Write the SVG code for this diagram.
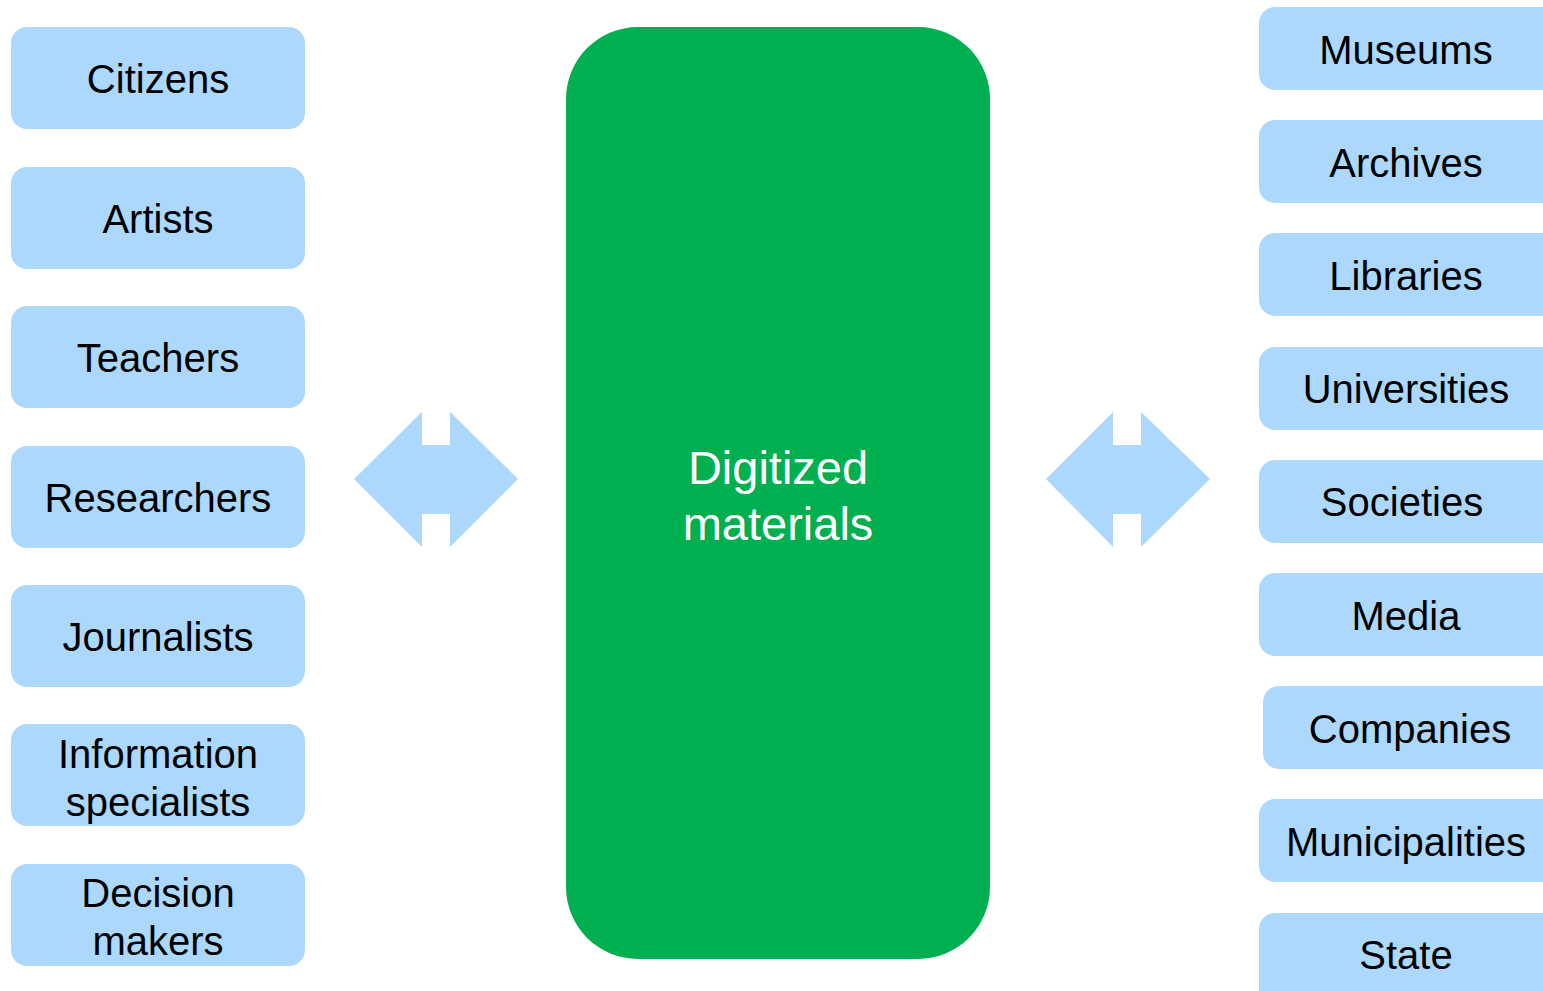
<svg xmlns="http://www.w3.org/2000/svg" width="1543" height="991" viewBox="0 0 1543 991">
<style>
.box{fill:#ADD8FE;}
.t{font-family:"Liberation Sans",Arial,sans-serif;font-size:40px;fill:#000;text-anchor:middle;}
.w{font-family:"Liberation Sans",Arial,sans-serif;font-size:47px;fill:#fff;text-anchor:middle;}
.arr{fill:#ADD8FE;}
</style>
<rect width="1543" height="991" fill="#fff"/>
<g id="center">
<rect x="566" y="27" width="424" height="932" rx="72" ry="72" fill="#00AF50"/>
<text class="w" x="778" y="484">Digitized</text>
<text class="w" x="778" y="540">materials</text>
</g>
<g id="left">
<g id="citizens"><rect class="box" x="11" y="27" width="294" height="102" rx="16"/><text class="t" x="158" y="93">Citizens</text></g>
<g id="artists"><rect class="box" x="11" y="167" width="294" height="102" rx="16"/><text class="t" x="158" y="233">Artists</text></g>
<g id="teachers"><rect class="box" x="11" y="306" width="294" height="102" rx="16"/><text class="t" x="158" y="372">Teachers</text></g>
<g id="researchers"><rect class="box" x="11" y="446" width="294" height="102" rx="16"/><text class="t" x="158" y="512">Researchers</text></g>
<g id="journalists"><rect class="box" x="11" y="585" width="294" height="102" rx="16"/><text class="t" x="158" y="651">Journalists</text></g>
<g id="infospec"><rect class="box" x="11" y="724" width="294" height="102" rx="16"/><text class="t" x="158" y="768">Information</text><text class="t" x="158" y="816">specialists</text></g>
<g id="decision"><rect class="box" x="11" y="864" width="294" height="102" rx="16"/><text class="t" x="158" y="907">Decision</text><text class="t" x="158" y="955">makers</text></g>
</g>
<g id="right">
<g id="museums"><rect class="box" x="1259" y="7" width="300" height="83" rx="16"/><text class="t" x="1406" y="64">Museums</text></g>
<g id="archives"><rect class="box" x="1259" y="120" width="300" height="83" rx="16"/><text class="t" x="1406" y="177">Archives</text></g>
<g id="libraries"><rect class="box" x="1259" y="233" width="300" height="83" rx="16"/><text class="t" x="1406" y="290">Libraries</text></g>
<g id="universities"><rect class="box" x="1259" y="347" width="300" height="83" rx="16"/><text class="t" x="1406" y="403">Universities</text></g>
<g id="societies"><rect class="box" x="1259" y="460" width="300" height="83" rx="16"/><text class="t" x="1402" y="516">Societies</text></g>
<g id="media"><rect class="box" x="1259" y="573" width="300" height="83" rx="16"/><text class="t" x="1406" y="630">Media</text></g>
<g id="companies"><rect class="box" x="1263" y="686" width="300" height="83" rx="16"/><text class="t" x="1410" y="743">Companies</text></g>
<g id="municipalities"><rect class="box" x="1259" y="799" width="300" height="83" rx="16"/><text class="t" x="1406" y="856">Municipalities</text></g>
<g id="state"><rect class="box" x="1259" y="913" width="300" height="100" rx="16"/><text class="t" x="1406" y="969">State</text></g>
</g>
<g id="connectors">
<polygon class="arr" points="354,479 422,412 422,445 450,445 450,412 518,479 450,547 450,514 422,514 422,547"/>
<polygon class="arr" points="1046,479 1113,412 1113,445 1141,445 1141,412 1210,479 1141,547 1141,514 1113,514 1113,547"/>
</g>
</svg>
